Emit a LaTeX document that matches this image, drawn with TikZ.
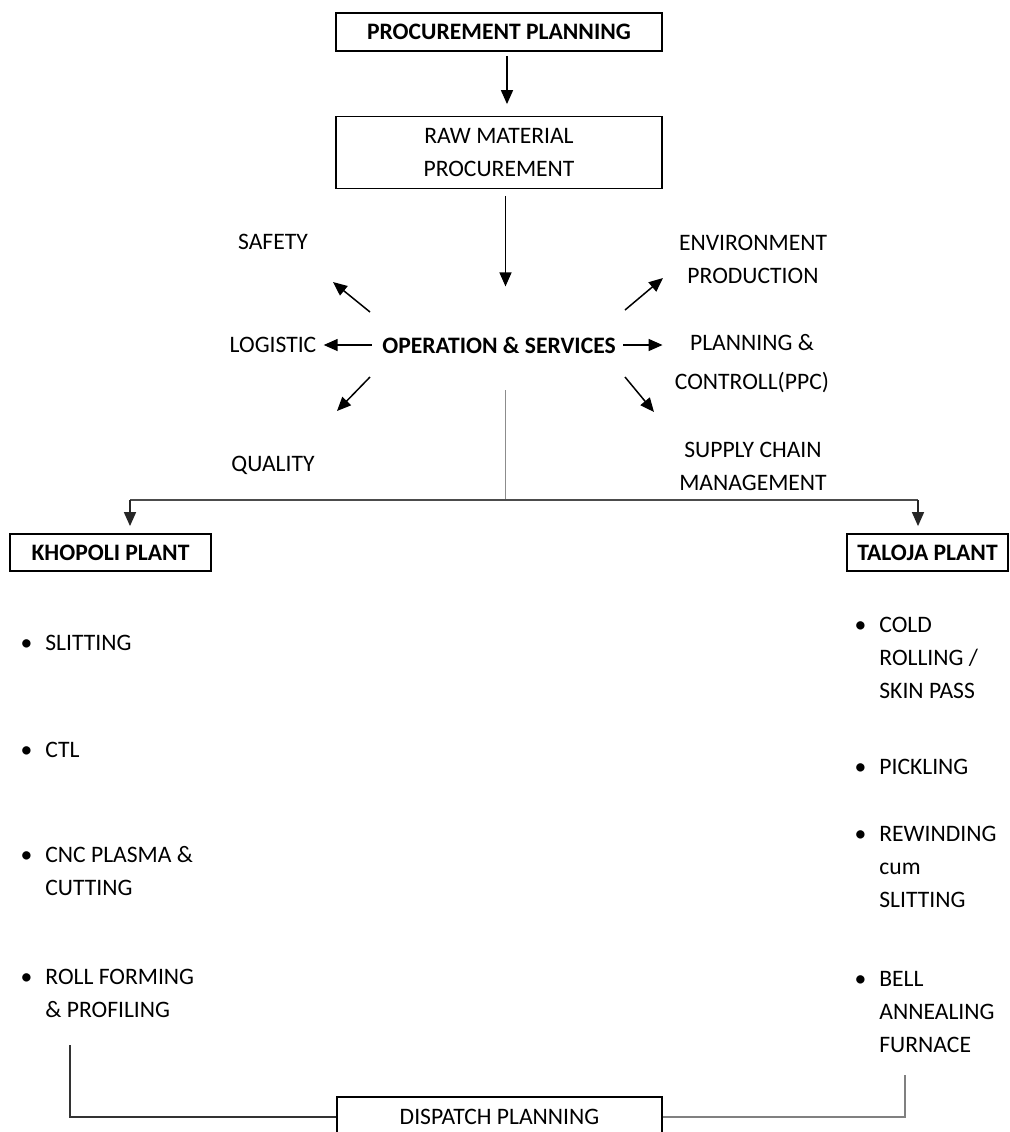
\documentclass[tikz,border=0pt]{standalone}
\usepackage{fontspec}
\setmainfont{Carlito}
\usetikzlibrary{arrows.meta}

\begin{document}
\begin{tikzpicture}[x=0.5pt, y=-0.5pt,
    txt/.style={inner sep=0pt, font=\fontsize{11.8}{16.5}\selectfont},
    boxed/.style={txt, draw, line width=0.9pt},
    item/.style={txt, anchor=west, align=left},
    arr/.style={line width=0.75pt, -{Triangle[length=7pt,width=6pt]}},
    link/.style={line width=0.8pt}]

  \useasboundingbox (0, 0) rectangle (1010, 1132);
  \clip (0, 0) rectangle (1010, 1132);

  % top boxes
  \node[boxed, minimum width=163pt, minimum height=19pt] (pp) at (499, 32) {\bfseries PROCUREMENT PLANNING};
  \node[boxed, minimum width=163pt, minimum height=36pt, align=center] (rm) at (499, 152.5) {RAW MATERIAL\\PROCUREMENT};

  % centre and departments
  \node[txt] (ops) at (499, 345) {\bfseries OPERATION \& SERVICES};
  \node[txt] (saf) at (273, 242) {SAFETY};
  \node[txt] (log) at (273, 345) {LOGISTIC};
  \node[txt] (qual) at (273, 465) {QUALITY};
  \node[txt, align=center] (env) at (753, 259) {ENVIRONMENT\\PRODUCTION};
  \node[txt, align=center] (plan) at (752, 364) {PLANNING \&\\[3pt]CONTROLL(PPC)};
  \node[txt, align=center] (scm) at (753, 466) {SUPPLY CHAIN\\MANAGEMENT};

  % plants
  \node[boxed, minimum width=100.5pt, minimum height=18.5pt] (kp) at (110.5, 552.5) {\bfseries KHOPOLI PLANT};
  \node[boxed, minimum width=80.5pt, minimum height=18.5pt] (tp) at (927.5, 552.5) {\bfseries TALOJA PLANT};

  \node[item] (k1) at (45, 643) {\llap{\textbullet\hspace{6.5pt}}SLITTING};
  \node[item] (k2) at (45, 750) {\llap{\textbullet\hspace{6.5pt}}CTL};
  \node[item] (k3) at (45, 871.5) {\llap{\textbullet\hspace{6.5pt}}CNC PLASMA \&\\CUTTING};
  \node[item] (k4) at (45, 993) {\llap{\textbullet\hspace{6.5pt}}ROLL FORMING\\\& PROFILING};

  \node[item] (t1) at (879, 657.5) {\llap{\textbullet\hspace{6.5pt}}COLD\\ROLLING /\\SKIN PASS};
  \node[item] (t2) at (879, 767) {\llap{\textbullet\hspace{6.5pt}}PICKLING};
  \node[item] (t3) at (879, 866.5) {\llap{\textbullet\hspace{6.5pt}}REWINDING\\cum\\SLITTING};
  \node[item] (t4) at (879, 1012) {\llap{\textbullet\hspace{6.5pt}}BELL\\ANNEALING\\FURNACE};

  \node[boxed, minimum width=162.5pt, minimum height=20pt] (dp) at (499.5, 1117) {DISPATCH PLANNING};

  % free ends
  \coordinate (nwA) at (370, 312);
  \coordinate (nwB) at (333, 282);
  \coordinate (neA) at (625, 310);
  \coordinate (neB) at (663, 278);
  \coordinate (swA) at (370, 377);
  \coordinate (swB) at (337, 411);
  \coordinate (seA) at (625, 377);
  \coordinate (seB) at (654, 412);
  \coordinate (trunk) at (505.5, 390);
  \coordinate (split) at (505.5, 500);
  \coordinate (kpin) at (130, 500);
  \coordinate (tpin) at (918, 500);
  \coordinate (kpout) at (70, 1045);
  \coordinate (tpout) at (905, 1075);

  % arrows
  \draw[arr, shorten <=2pt, shorten >=5.75pt] ([xshift=4pt]pp.south) -- ([xshift=4pt]rm.north);
  \draw[arr, shorten <=3.25pt, shorten >=25pt] ([xshift=3.25pt]rm.south) -- ([xshift=3.25pt]ops.north);
  \draw[arr, shorten <=5pt, shorten >=3.5pt] (ops.west) -- (log.east);
  \draw[arr, shorten <=3.5pt, shorten >=6pt] (ops.east) -- (ops.east -| plan.west);
  \draw[arr] (nwA) -- (nwB);
  \draw[arr] (neA) -- (neB);
  \draw[arr] (swA) -- (swB);
  \draw[arr] (seA) -- (seB);

  \draw[link, black!45] (trunk) -- (split);
  \draw[link, black!70] (kpin) -- (tpin);
  \draw[arr, black!85, shorten >=3.5pt] (kpin) -- (kpin |- kp.north);
  \draw[arr, black!85, shorten >=3.5pt] (tpin) -- (tpin |- tp.north);

  \draw[link, black!80] (kpout) |- (dp.west);
  \draw[link, black!50] (tpout) |- (dp.east);

\end{tikzpicture}
\end{document}
